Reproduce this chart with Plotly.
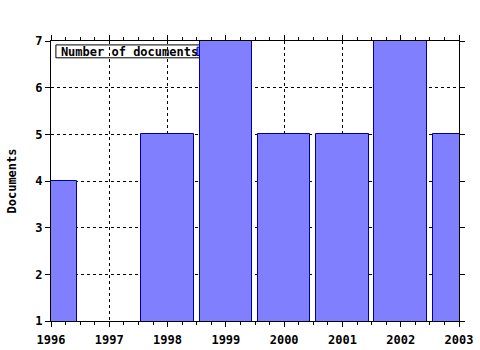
import plotly.graph_objects as go

years = [1996, 1997, 1998, 1999, 2000, 2001, 2002, 2003]
documents = [4, 0, 5, 7, 5, 5, 7, 5]
y_ticks = [1, 2, 3, 4, 5, 6, 7]
legend_label = "Number of documents"

FONT = "DejaVu Sans Mono"

fig = go.Figure()
fig.add_trace(go.Bar(
    x=years, y=documents, width=0.9,
    marker=dict(color="#8080ff", line=dict(color="#0000a0", width=1)),
    showlegend=False,
))

# legend-like box drawn beneath bars (partly hidden by the 1999 bar)
fig.add_shape(
    type="rect", xref="paper", yref="paper",
    x0=0.012, x1=0.40, y0=0.94, y1=0.986,
    layer="between", fillcolor="white", line=dict(color="black", width=1),
    label=dict(text="<b>" + legend_label + "</b>", textposition="middle left",
               font=dict(family=FONT, size=12, color="black"), padding=2),
)
# legend swatch
fig.add_shape(
    type="rect", xref="paper", yref="paper",
    x0=0.358, x1=0.40, y0=0.948, y1=0.978,
    layer="between", fillcolor="#8080ff", line=dict(color="#0000a0", width=1),
)

fig.update_layout(
    width=480, height=350,
    margin=dict(l=51, r=21, t=41, b=29, autoexpand=False),
    paper_bgcolor="white", plot_bgcolor="white",
    font=dict(family=FONT, size=12, color="black"),
    bargap=0,
)
fig.update_xaxes(
    range=[1996, 2003], tickvals=years, ticktext=["<b>%d</b>" % y for y in years],
    showline=True, linecolor="black", linewidth=1, mirror="ticks",
    ticks="outside", ticklen=5, tickcolor="black", ticklabelstandoff=3,
    showgrid=True, gridcolor="black", griddash="dot", gridwidth=1,
    minor=dict(dtick=0.25, ticks="outside", ticklen=3, tickcolor="black", showgrid=False),
    zeroline=False, automargin=False,
)
fig.update_yaxes(
    range=[1, 7], tickvals=y_ticks, ticktext=["<b>%d</b>" % v for v in y_ticks],
    showline=True, linecolor="black", linewidth=1, mirror="ticks",
    ticks="outside", ticklen=5, tickcolor="black",
    showgrid=True, gridcolor="black", griddash="dot", gridwidth=1,
    title=dict(text="<b>Documents</b>", font=dict(family=FONT, size=12), standoff=16),
    zeroline=False, automargin=False,
)

fig.write_html("out.html")
